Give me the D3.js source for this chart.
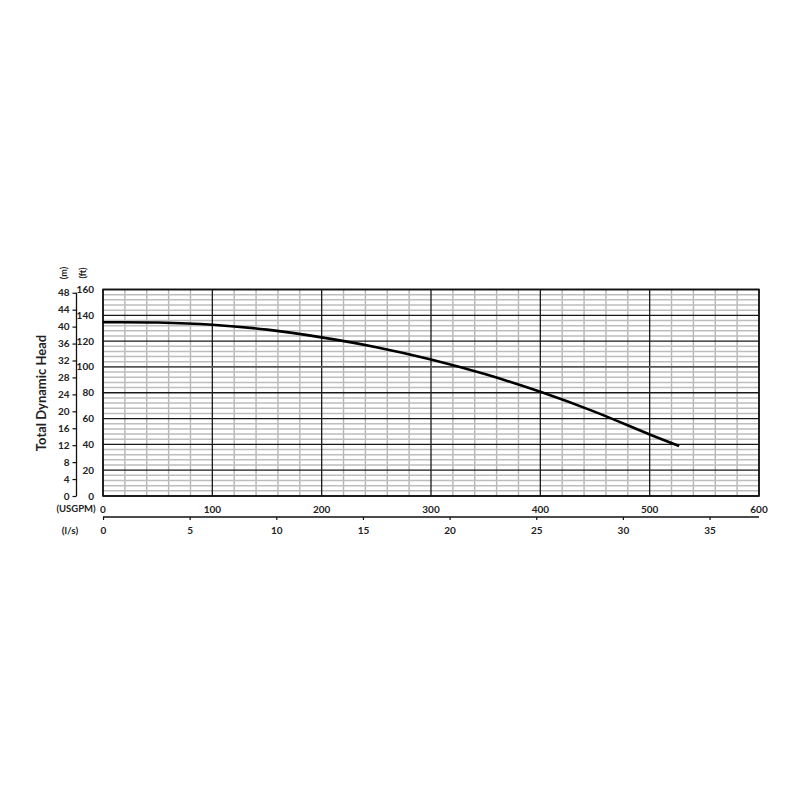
<!DOCTYPE html>
<html><head><meta charset="utf-8">
<script src="https://cdn.jsdelivr.net/npm/d3@7"></script>
<style>
html,body{margin:0;padding:0;background:#fff;}
svg text{font-family:Lato,"Liberation Sans",sans-serif;font-weight:bold;fill:#222;}
</style></head>
<body>
<svg id="c" width="800" height="800"></svg>
<script>
// Pump curve data: flow (USGPM) vs total dynamic head (ft)
const flowUSGPM = [0, 50, 100, 150, 200, 250, 300, 350, 400, 450, 500, 527];
const headFt    = [134.6, 134.4, 132.7, 128.9, 122.9, 115.3, 105.8, 94.3, 80.7, 65.2, 47.7, 38.8];
const ftTicks = [0, 20, 40, 60, 80, 100, 120, 140, 160];
const mTicks = [0, 4, 8, 12, 16, 20, 24, 28, 32, 36, 40, 44, 48];
const usgpmTicks = [0, 100, 200, 300, 400, 500, 600];
const lsTicks = [0, 5, 10, 15, 20, 25, 30, 35];
const FT_PER_M = 3.28084;
const USGPM_PER_LS = 15.8503;

const svg = d3.select("#c");
const L = 103, R = 759, T = 289.5, B = 496;
const x = d3.scaleLinear().domain([0, 600]).range([L, R]);
const y = d3.scaleLinear().domain([0, 160]).range([B, T]);
const ym = d3.scaleLinear().domain([0, 160 / FT_PER_M]).range([B, T]);
const xl = d3.scaleLinear().domain([0, 600 / USGPM_PER_LS]).range([L, R]);

// grid
const g = svg.append("g");
const minorX = d3.range(0, 601, 20).filter(v => v % 100 !== 0);
const minorY = d3.range(0, 161, 4).filter(v => v % 20 !== 0);
g.selectAll(".mx").data(minorX).join("line")
  .attr("x1", d => x(d)).attr("x2", d => x(d)).attr("y1", T).attr("y2", B)
  .attr("stroke", "#b5b5b5").attr("stroke-width", 1.4);
g.selectAll(".my").data(minorY).join("line")
  .attr("x1", L).attr("x2", R).attr("y1", d => y(d)).attr("y2", d => y(d))
  .attr("stroke", "#bdbdbd").attr("stroke-width", 1.5);
g.selectAll(".Mx").data(usgpmTicks).join("line")
  .attr("x1", d => x(d)).attr("x2", d => x(d)).attr("y1", T).attr("y2", B)
  .attr("stroke", "#1a1a1a").attr("stroke-width", 1.3);
g.selectAll(".My").data(ftTicks).join("line")
  .attr("x1", L).attr("x2", R).attr("y1", d => y(d)).attr("y2", d => y(d))
  .attr("stroke", d => d === 100 ? "#555" : "#1a1a1a").attr("stroke-width", d => d === 100 ? 1.8 : 1.3);
g.append("rect").attr("x", L).attr("y", T).attr("width", R - L).attr("height", B - T)
  .attr("fill", "none").attr("stroke", "#111").attr("stroke-width", 1.6);

// curve
const pts = flowUSGPM.map((f, i) => [f, headFt[i]]);
svg.append("path").datum(pts)
  .attr("d", d3.line().x(d => x(d[0])).y(d => y(d[1])).curve(d3.curveCatmullRom.alpha(0.5)))
  .attr("fill", "none").attr("stroke", "#000").attr("stroke-width", 2.6);

// ft axis labels
svg.append("g").selectAll("text").data(ftTicks).join("text")
  .attr("x", 94).attr("y", d => y(d)).attr("dy", "0.35em")
  .attr("text-anchor", "end").attr("font-size", 10).text(d => d);

// m axis
const mAxis = d3.axisLeft(ym).tickValues(mTicks).tickSize(4).tickPadding(3);
const ma = svg.append("g").attr("transform", "translate(76.5,0)").call(mAxis);
ma.select(".domain").attr("stroke", "#111").attr("stroke-width", 1.3)
  .attr("d", `M0,${ym(48)}V${ym(0)}`);
ma.selectAll(".tick line").attr("stroke", "#111").attr("stroke-width", 1.2);
ma.selectAll("text").attr("font-size", 10).style("font-family", "Lato,sans-serif").style("font-weight", "bold").attr("fill", "#222");

// USGPM labels
svg.append("g").selectAll("text").data(usgpmTicks).join("text")
  .attr("x", d => x(d)).attr("y", 509).attr("dy", "0.35em")
  .attr("text-anchor", "middle").attr("font-size", 10).text(d => d);

// l/s axis
const lAxis = d3.axisBottom(xl).tickValues(lsTicks).tickSize(3).tickPadding(7);
const la = svg.append("g").attr("transform", "translate(0,517)").call(lAxis);
la.select(".domain").attr("stroke", "#111").attr("stroke-width", 1.3).attr("d", `M${L},0H${R}`);
la.selectAll(".tick line").attr("stroke", "#111").attr("stroke-width", 1.2);
la.selectAll("text").attr("font-size", 10).style("font-family", "Lato,sans-serif").style("font-weight", "bold").attr("fill", "#222");

// unit labels
svg.append("text").attr("x", 76).attr("y", 509).attr("dy", "0.35em").attr("text-anchor", "middle")
  .attr("font-size", 9.5).text("(USGPM)");
svg.append("text").attr("x", 70).attr("y", 530).attr("dy", "0.35em").attr("text-anchor", "middle")
  .attr("font-size", 10).text("(l/s)");
svg.append("text").attr("transform", "translate(64,273) rotate(-90)").attr("dy", "0.35em")
  .attr("text-anchor", "middle").attr("font-size", 9).text("(m)");
svg.append("text").attr("transform", "translate(83,273) rotate(-90)").attr("dy", "0.35em")
  .attr("text-anchor", "middle").attr("font-size", 9).text("(ft)");
svg.append("text").attr("transform", "translate(41,393) rotate(-90)").attr("dy", "0.35em")
  .attr("text-anchor", "middle").attr("font-size", 13).text("Total Dynamic Head");
</script>
</body></html>
